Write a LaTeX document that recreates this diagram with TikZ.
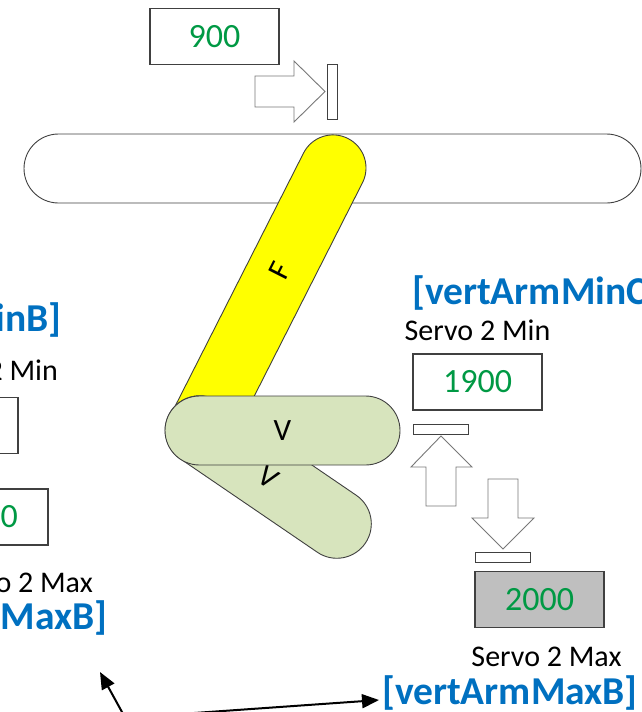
\documentclass[tikz,border=0pt]{standalone}
\usepackage{fontspec}
\setmainfont{Carlito}
\usetikzlibrary{arrows.meta}
\definecolor{numgreen}{RGB}{0,153,68}
\definecolor{linkblue}{RGB}{0,112,192}
\definecolor{armyellow}{RGB}{255,255,0}
\definecolor{armgreen}{RGB}{215,228,189}
\definecolor{limitgray}{RGB}{191,191,191}
\definecolor{edgegray}{RGB}{64,64,64}
\definecolor{arrowgray}{RGB}{120,120,120}
\tikzset{
  capsule/.style={draw=edgegray, line width=0.9pt, rounded corners=#1,
    minimum height=2*#1, inner sep=0pt, font=\fontsize{31}{37}\selectfont},
  valbox/.style={draw=edgegray, line width=1.1pt, minimum width=129pt,
    minimum height=56pt, inner sep=0pt, text=numgreen,
    font=\fontsize{34}{40}\selectfont},
  servo/.style={inner sep=0pt, font=\fontsize{30}{36}\selectfont},
  tag/.style={inner sep=0pt, text=linkblue, font=\fontsize{39.5}{46}\selectfont\bfseries},
  stopbar/.style={draw=edgegray, line width=0.9pt, fill=white, inner sep=0pt},
  blockarrow/.style={draw=arrowgray, line width=0.9pt, fill=white, line join=miter},
  pointer/.style={line width=2pt, -{Triangle[length=17pt,width=14pt]}},
}
\begin{document}
\begin{tikzpicture}[x=1pt,y=-1pt]
\useasboundingbox (0,0) rectangle (642,712);

% crossbar and arm segments, back to front
\node[capsule=34.5pt, fill=white, minimum width=617pt] (bar) at (332.5,168.5) {};
\node[capsule=33pt, fill=armyellow, minimum width=360pt, rotate=63.1] (farm) at (266.5,299) {};
\node[rotate=63.1, inner sep=0pt, font=\fontsize{31}{37}\selectfont] (flabel) at (280,271) {F};
\node[capsule=34.5pt, fill=armgreen, minimum width=235pt, rotate=-34.3] (vtilt) at (268.25,477) {V};
\node[capsule=34.5pt, fill=armgreen, minimum width=235pt] (vlevel) at (282.5,430.5) {V};

% top limit
\node[valbox] (v900) at (214.5,36.5) {900};
\draw[blockarrow] (255,76) -- (294,76) -- (294,61) -- (325,91.5) -- (294,122)
  -- (294,107) -- (255,107) -- cycle;
\node[stopbar, minimum width=10pt, minimum height=55pt] (stoptop) at (332,91.5) {};

% right servo limits
\node[tag, anchor=west] (minC) at (412,293) {[vertArmMinC]};
\node[servo] (smin) at (477.5,330) {Servo 2 Min};
\node[valbox] (v1900) at (477.5,382) {1900};
\node[stopbar, minimum width=55pt, minimum height=10pt] (stopup) at (440.5,429) {};
\draw[blockarrow] (441,436) -- (472,467) -- (456,467) -- (456,506) -- (426,506)
  -- (426,467) -- (411,467) -- cycle;
\draw[blockarrow] (503,549) -- (534,518) -- (518,518) -- (518,479) -- (488,479)
  -- (488,518) -- (472,518) -- cycle;
\node[stopbar, minimum width=55pt, minimum height=10pt] (stopdown) at (502.5,557) {};
\node[valbox, fill=limitgray] (v2000) at (539.5,599.5) {2000};
\node[servo] (smax) at (546.5,657) {Servo 2 Max};
\node[tag] (maxB) at (510,693) {[vertArmMaxB]};

% left servo limits
\node[tag, anchor=east] (minB) at (62,320) {[vertArmMinB]};
\node[servo, anchor=east] (sminL) at (58,370) {Servo 2 Min};
\node[valbox] (lowL) at (-46.5,425.5) {};
\node[valbox] (highL) at (-16.5,517) {2000};
\node[servo, anchor=east] (smaxL) at (93,583) {Servo 2 Max};
\node[tag, anchor=east] (maxBL) at (108,618) {[vertArmMaxB]};

% pointers
\coordinate (tailA) at (133,732);
\coordinate (headA) at (100,672);
\coordinate (tailB) at (180,714);
\coordinate (headB) at (379,700);
\draw[pointer] (tailA) -- (headA);
\draw[pointer] (tailB) -- (headB);
\end{tikzpicture}
\end{document}
